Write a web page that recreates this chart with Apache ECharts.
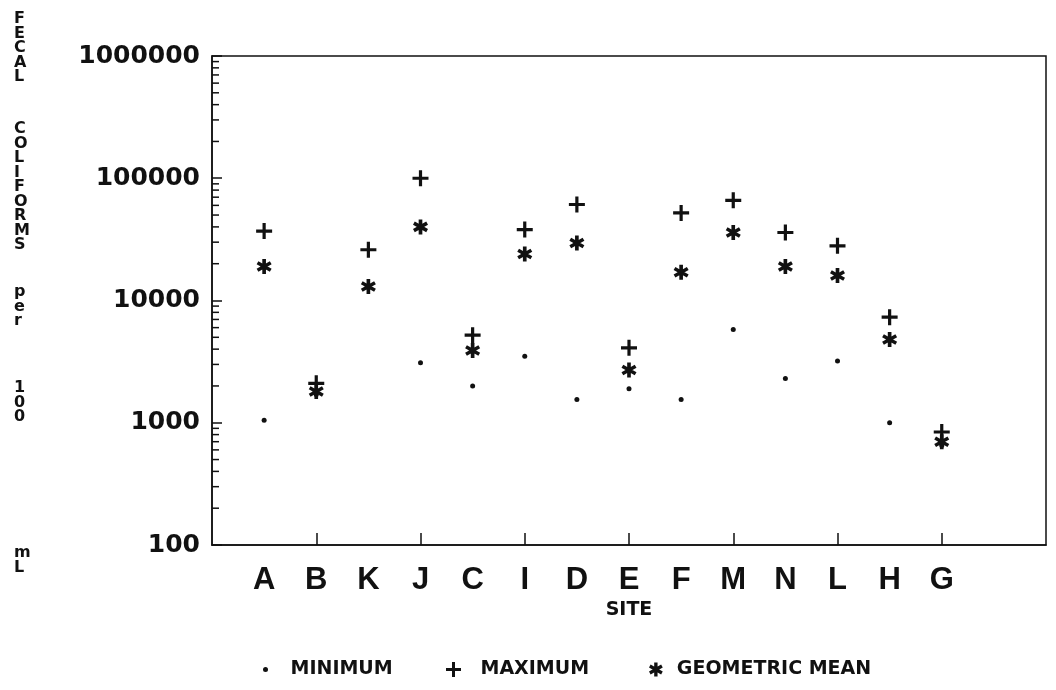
<!DOCTYPE html>
<html>
<head>
<meta charset="utf-8">
<title>Fecal coliforms by site</title>
<script src="https://cdn.jsdelivr.net/npm/echarts@6/dist/echarts.min.js"></script>
<style>
  html, body { margin: 0; padding: 0; background: #fff; }
  #chart { width: 1056px; height: 690px; }
</style>
</head>
<body>
<div id="chart"></div>
<script>
// Sampling sites, in plotting order
const sites = ['A', 'B', 'K', 'J', 'C', 'I', 'D', 'E', 'F', 'M', 'N', 'L', 'H', 'G'];

// Fecal coliforms per 100 mL at each site
const minimum = [1050, 1700, null, 3100, 2000, 3500, 1550, 1900, 1550, 5800, 2300, 3200, 1000, 650];
const maximum = [37000, 2100, 26000, 100000, 5200, 38000, 61000, 4100, 52000, 66000, 36000, 28000, 7300, 840];
const geoMean = [19000, 1800, 13000, 40000, 3900, 24000, 29500, 2700, 17000, 36000, 19000, 16000, 4800, 700];

// Decade labels of the log axis
const yTickLabels = ['100', '1000', '10000', '100000', '1000000'];

// Stacked letters of the vertical axis title: [word, centre of first letter]
const yTitleWords = [['FECAL', 18], ['COLIFORMS', 128], ['per', 291], ['100', 387], ['mL', 552]];

const INK = '#111';
const BOLD_WIDE = 'DejaVu Sans';

// One empty slot before A and two after G
const xCategories = ['_lead'].concat(sites, ['_trail1', '_trail2']);

// Marker shapes
const PLUS = 'path://M4,0H6V4H10V6H6V10H4V6H0V4H4Z';
const STAR = 'path://M3.8,0H6.2V10H3.8Z' +
  'M1.25,1.48L9.91,6.48L8.75,8.52L0.09,3.52Z' +
  'M0.09,6.48L8.75,1.48L9.91,3.52L1.25,8.52Z';

function pairs(values) {
  const out = [];
  values.forEach((v, i) => { if (v != null) out.push([sites[i], v]); });
  return out;
}

// Minor log ticks (2..9 within each decade)
const minorTickValues = [];
for (let d = 100; d < 1000000; d *= 10) {
  for (let k = 2; k <= 9; k++) minorTickValues.push([xCategories[0], d * k]);
}

const chart = echarts.init(document.getElementById('chart'));

function legendFor(name, icon, left, w, h) {
  return {
    left: left, top: 655,
    itemWidth: w, itemHeight: h,
    symbolKeepAspect: true,
    data: [{ name: name, icon: icon, itemStyle: { color: INK, opacity: 1 } }],
    textStyle: { color: INK, fontFamily: BOLD_WIDE, fontWeight: 'bold', fontSize: 19 },
    selectedMode: false
  };
}

const markStyle = { color: INK, opacity: 1 };

const option = {
  backgroundColor: '#fff',
  animation: false,
  grid: {
    left: 212, right: 10, top: 56, bottom: 145,
    show: true, borderColor: INK, borderWidth: 1.5, backgroundColor: 'transparent'
  },
  legend: [
    legendFor('MINIMUM', 'circle', 258, 40, 5),
    legendFor('MAXIMUM', PLUS, 441, 44, 15),
    legendFor('GEOMETRIC MEAN', STAR, 644, 32, 14)
  ],
  xAxis: {
    type: 'category',
    data: xCategories,
    boundaryGap: false,
    name: 'SITE',
    nameLocation: 'middle',
    nameGap: 56,
    nameTextStyle: { color: INK, fontFamily: BOLD_WIDE, fontWeight: 'bold', fontSize: 19 },
    axisLine: { lineStyle: { color: INK, width: 1.5 } },
    axisTick: {
      inside: true, length: 12,
      interval: (index) => index > 0 && index < xCategories.length - 2 && index % 2 === 0,
      lineStyle: { color: INK, width: 1.5 }
    },
    axisLabel: {
      interval: 0, margin: 20,
      color: INK, fontFamily: 'Liberation Sans', fontWeight: 'bold', fontSize: 31,
      formatter: (v) => (v.charAt(0) === '_' ? '' : v)
    },
    splitLine: { show: false }
  },
  yAxis: {
    type: 'log',
    logBase: 10,
    min: 100,
    max: 1000000,
    axisLine: { show: true, lineStyle: { color: INK, width: 1.5 } },
    axisTick: { show: true, inside: true, length: 10, lineStyle: { color: INK, width: 1.5 } },
    axisLabel: {
      margin: 12,
      color: INK, fontFamily: BOLD_WIDE, fontWeight: 'bold', fontSize: 25,
      formatter: (v) => {
        const s = String(Math.round(v));
        return yTickLabels.indexOf(s) >= 0 ? s : '';
      }
    },
    splitLine: { show: false }
  },
  series: [
    {
      type: 'custom',
      name: 'minor ticks',
      silent: true,
      data: minorTickValues,
      renderItem: (params, api) => {
        const cs = params.coordSys;
        const y = api.coord([0, api.value(1)])[1];
        return {
          type: 'line',
          shape: { x1: cs.x, y1: y, x2: cs.x + 7, y2: y },
          style: { stroke: INK, lineWidth: 1.5 }
        };
      }
    },
    {
      type: 'scatter', name: 'MINIMUM',
      data: pairs(minimum),
      symbol: 'circle', symbolSize: 5,
      itemStyle: markStyle
    },
    {
      type: 'scatter', name: 'MAXIMUM',
      data: pairs(maximum),
      symbol: PLUS, symbolSize: 16,
      itemStyle: markStyle
    },
    {
      type: 'scatter', name: 'GEOMETRIC MEAN',
      data: pairs(geoMean),
      symbol: STAR, symbolSize: 15,
      itemStyle: markStyle
    }
  ],
  graphic: yTitleWords.map(([word, cy]) => ({
    type: 'text',
    left: 14,
    top: cy - 7,
    style: {
      text: word.split('').join('\n'),
      fill: INK,
      font: 'bold 16px "DejaVu Sans"',
      lineHeight: 14.5,
      align: 'center'
    }
  }))
};

chart.setOption(option);
</script>
</body>
</html>
